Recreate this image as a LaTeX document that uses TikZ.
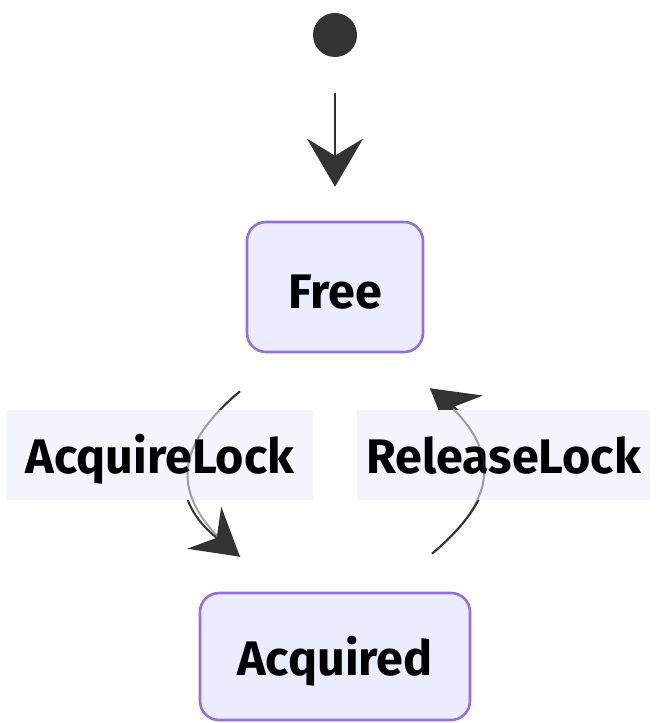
\documentclass[tikz,border=0pt]{standalone}
\usepackage{fontspec}
\setmainfont{Fira Sans}
\usetikzlibrary{arrows.meta,calc}
\definecolor{statefill}{HTML}{ECECFF}
\definecolor{statedraw}{HTML}{9370DB}
\definecolor{labelbg}{HTML}{F4F4FD}
\definecolor{linec}{HTML}{333333}
\tikzset{
  txt/.style={font=\fontsize{48.5}{58}\selectfont\bfseries, text=black, text depth=0pt},
  statebox/.style={txt, draw=statedraw, fill=statefill, line width=2.6pt, rounded corners=19pt, inner sep=0pt},
  edgelabel/.style={txt, fill=labelbg, inner sep=0pt, text height=36pt},
  startdot/.style={circle, fill=linec, minimum size=44pt, inner sep=0pt},
  conn/.style={draw=linec, line width=2.4pt,
    -{Stealth[length=48pt, width=56pt, inset=17pt]}},
  curveconn/.style={draw=linec, line width=2pt,
    -{Stealth[length=46pt, width=54pt, inset=16pt]}},
  overline/.style={draw=linec, line width=2pt, opacity=0.45}
}
\begin{document}
\begin{tikzpicture}[x=1pt, y=-1pt]
\useasboundingbox (0,0) rectangle (657,723);
\node[startdot] (start) at (335,35) {};
\node[statebox, minimum width=176pt, minimum height=130pt, text height=42pt] (free) at (335,287) {Free};
\node[statebox, minimum width=270pt, minimum height=127pt, text height=37pt] (acq) at (335,656.5) {Acquired};
% connectors
\draw[conn, shorten <=36pt, shorten >=34pt] (start) -- (free);
\draw[curveconn] ([xshift=-95pt, yshift=-38pt]free.south)
   .. controls (170,450) and (170,500) .. ([xshift=-95pt, yshift=35pt]acq.north);
\draw[curveconn] ([xshift=97pt, yshift=38pt]acq.north)
   .. controls (502,495) and (502,445) .. ([xshift=95pt, yshift=-35pt]free.south);
% labels
\node[edgelabel, minimum width=306pt, minimum height=90pt] (lacq) at (160,455) {AcquireLock};
\node[edgelabel, minimum width=293pt, minimum height=90pt] (lrel) at (503.5,455) {ReleaseLock};
% connector parts seen through the label backgrounds
\draw[overline] ([xshift=-95pt, yshift=-38pt]free.south)
   .. controls (170,450) and (170,500) .. ([xshift=-95pt, yshift=35pt]acq.north);
\draw[overline] ([xshift=97pt, yshift=38pt]acq.north)
   .. controls (502,495) and (502,445) .. ([xshift=95pt, yshift=-35pt]free.south);
\end{tikzpicture}
\end{document}
